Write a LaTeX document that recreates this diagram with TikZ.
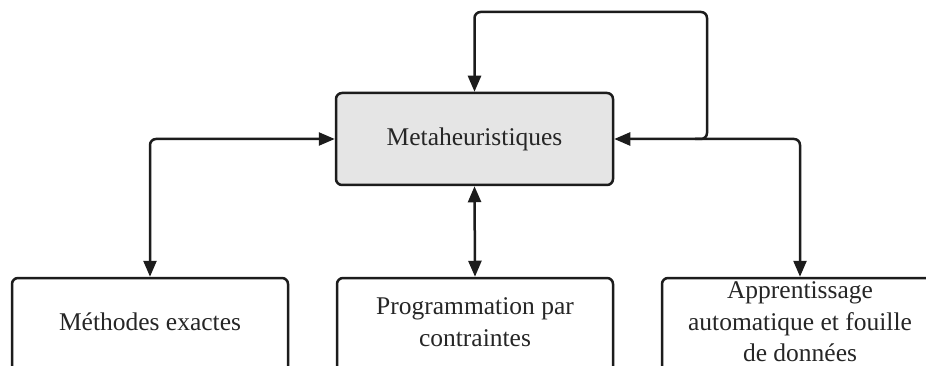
\documentclass[tikz,border=0pt]{standalone}
\usepackage{fontspec}
\setmainfont{Liberation Serif}
\usetikzlibrary{arrows.meta}
\definecolor{boxfill}{HTML}{E5E5E5}
\definecolor{ink}{HTML}{1C1C1C}
\definecolor{txt}{HTML}{262626}
\begin{document}
\begin{tikzpicture}[x=1pt,y=-1pt,
  box/.style={draw=ink, line width=2.5pt, rounded corners=6pt, minimum width=276pt, inner sep=0pt},
  lbl/.style={text=txt, align=center, font=\fontsize{25.5}{31.5}\selectfont, inner sep=0pt},
  link/.style={draw=ink, line width=2.5pt, rounded corners=6pt, {Triangle[length=16pt,width=13pt]}-{Triangle[length=16pt,width=13pt]}},
  loop/.style={draw=ink, line width=2.5pt, rounded corners=6pt, -{Triangle[length=16pt,width=13pt]}}]
\useasboundingbox (0,0) rectangle (926,366);
\clip (0,0) rectangle (926,366);
\fill[white] (0,0) rectangle (926,366);

% central box
\node[box, fill=boxfill, minimum width=277pt, minimum height=92pt] (meta) at (474.5,139) {};
\node[lbl] (metatext) at (474.5,139) {Metaheuristiques};

% bottom boxes (they run past the lower edge)
\node[box, minimum height=110pt] (me) at (150,333) {};
\node[box, minimum height=110pt] (pp) at (475,333) {};
\node[box, minimum height=110pt] (ad) at (800,333) {};
\node[lbl] (metext) at (150,322) {Méthodes exactes};
\node[lbl] (pptext) at (475,322) {Programmation par\\contraintes};
\node[lbl] (adtext) at (800,322) {Apprentissage\\automatique et fouille\\de données};

% connectors
\draw[link] (meta.west) -| (me.north);
\draw[link] (meta.south) -- (pp.north);
\draw[link] (meta.east) -| (ad.north);

% feedback loop
\coordinate (lp) at (695,139);
\draw[loop] (lp) -- (707,139) -- (707,12) -| (meta.north);
\end{tikzpicture}
\end{document}
